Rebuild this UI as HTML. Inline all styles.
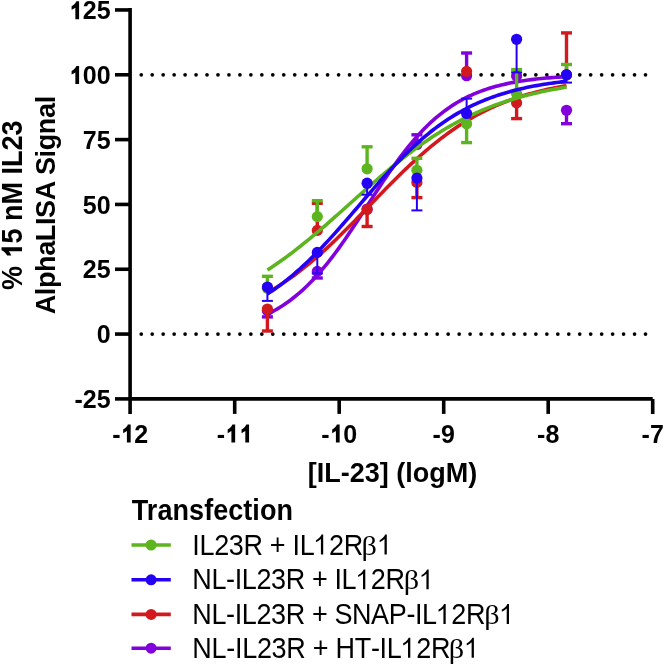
<!DOCTYPE html>
<html><head><meta charset="utf-8"><style>
html,body{margin:0;padding:0;background:#fff;}
svg{display:block;will-change:transform;}
.tk{font-family:"Liberation Sans",sans-serif;font-weight:bold;font-size:25px;fill:#000;font-kerning:none;}
.ti{font-family:"Liberation Sans",sans-serif;font-weight:bold;font-size:27px;fill:#000;}
.lg{font-family:"Liberation Sans",sans-serif;font-size:27px;fill:#000;font-kerning:none;}
.beta{font-family:"Liberation Serif",serif;font-size:28px;fill:#000;}
.h{fill-opacity:0;}
</style></head><body>
<svg width="664" height="665" viewBox="0 0 664 665">
<rect width="664" height="665" fill="#fff"/>
<circle cx="141.25" cy="74.8" r="1.85" fill="#000"/>
<circle cx="152.21" cy="74.8" r="1.85" fill="#000"/>
<circle cx="163.17" cy="74.8" r="1.85" fill="#000"/>
<circle cx="174.14" cy="74.8" r="1.85" fill="#000"/>
<circle cx="185.10" cy="74.8" r="1.85" fill="#000"/>
<circle cx="196.06" cy="74.8" r="1.85" fill="#000"/>
<circle cx="207.02" cy="74.8" r="1.85" fill="#000"/>
<circle cx="217.98" cy="74.8" r="1.85" fill="#000"/>
<circle cx="228.95" cy="74.8" r="1.85" fill="#000"/>
<circle cx="239.91" cy="74.8" r="1.85" fill="#000"/>
<circle cx="250.87" cy="74.8" r="1.85" fill="#000"/>
<circle cx="261.83" cy="74.8" r="1.85" fill="#000"/>
<circle cx="272.79" cy="74.8" r="1.85" fill="#000"/>
<circle cx="283.76" cy="74.8" r="1.85" fill="#000"/>
<circle cx="294.72" cy="74.8" r="1.85" fill="#000"/>
<circle cx="305.68" cy="74.8" r="1.85" fill="#000"/>
<circle cx="316.64" cy="74.8" r="1.85" fill="#000"/>
<circle cx="327.60" cy="74.8" r="1.85" fill="#000"/>
<circle cx="338.57" cy="74.8" r="1.85" fill="#000"/>
<circle cx="349.53" cy="74.8" r="1.85" fill="#000"/>
<circle cx="360.49" cy="74.8" r="1.85" fill="#000"/>
<circle cx="371.45" cy="74.8" r="1.85" fill="#000"/>
<circle cx="382.41" cy="74.8" r="1.85" fill="#000"/>
<circle cx="393.38" cy="74.8" r="1.85" fill="#000"/>
<circle cx="404.34" cy="74.8" r="1.85" fill="#000"/>
<circle cx="415.30" cy="74.8" r="1.85" fill="#000"/>
<circle cx="426.26" cy="74.8" r="1.85" fill="#000"/>
<circle cx="437.22" cy="74.8" r="1.85" fill="#000"/>
<circle cx="448.19" cy="74.8" r="1.85" fill="#000"/>
<circle cx="459.15" cy="74.8" r="1.85" fill="#000"/>
<circle cx="470.11" cy="74.8" r="1.85" fill="#000"/>
<circle cx="481.07" cy="74.8" r="1.85" fill="#000"/>
<circle cx="492.03" cy="74.8" r="1.85" fill="#000"/>
<circle cx="503.00" cy="74.8" r="1.85" fill="#000"/>
<circle cx="513.96" cy="74.8" r="1.85" fill="#000"/>
<circle cx="524.92" cy="74.8" r="1.85" fill="#000"/>
<circle cx="535.88" cy="74.8" r="1.85" fill="#000"/>
<circle cx="546.84" cy="74.8" r="1.85" fill="#000"/>
<circle cx="557.81" cy="74.8" r="1.85" fill="#000"/>
<circle cx="568.77" cy="74.8" r="1.85" fill="#000"/>
<circle cx="579.73" cy="74.8" r="1.85" fill="#000"/>
<circle cx="590.69" cy="74.8" r="1.85" fill="#000"/>
<circle cx="601.65" cy="74.8" r="1.85" fill="#000"/>
<circle cx="612.62" cy="74.8" r="1.85" fill="#000"/>
<circle cx="623.58" cy="74.8" r="1.85" fill="#000"/>
<circle cx="634.54" cy="74.8" r="1.85" fill="#000"/>
<circle cx="645.50" cy="74.8" r="1.85" fill="#000"/>
<circle cx="141.25" cy="334.1" r="1.85" fill="#000"/>
<circle cx="152.21" cy="334.1" r="1.85" fill="#000"/>
<circle cx="163.17" cy="334.1" r="1.85" fill="#000"/>
<circle cx="174.14" cy="334.1" r="1.85" fill="#000"/>
<circle cx="185.10" cy="334.1" r="1.85" fill="#000"/>
<circle cx="196.06" cy="334.1" r="1.85" fill="#000"/>
<circle cx="207.02" cy="334.1" r="1.85" fill="#000"/>
<circle cx="217.98" cy="334.1" r="1.85" fill="#000"/>
<circle cx="228.95" cy="334.1" r="1.85" fill="#000"/>
<circle cx="239.91" cy="334.1" r="1.85" fill="#000"/>
<circle cx="250.87" cy="334.1" r="1.85" fill="#000"/>
<circle cx="261.83" cy="334.1" r="1.85" fill="#000"/>
<circle cx="272.79" cy="334.1" r="1.85" fill="#000"/>
<circle cx="283.76" cy="334.1" r="1.85" fill="#000"/>
<circle cx="294.72" cy="334.1" r="1.85" fill="#000"/>
<circle cx="305.68" cy="334.1" r="1.85" fill="#000"/>
<circle cx="316.64" cy="334.1" r="1.85" fill="#000"/>
<circle cx="327.60" cy="334.1" r="1.85" fill="#000"/>
<circle cx="338.57" cy="334.1" r="1.85" fill="#000"/>
<circle cx="349.53" cy="334.1" r="1.85" fill="#000"/>
<circle cx="360.49" cy="334.1" r="1.85" fill="#000"/>
<circle cx="371.45" cy="334.1" r="1.85" fill="#000"/>
<circle cx="382.41" cy="334.1" r="1.85" fill="#000"/>
<circle cx="393.38" cy="334.1" r="1.85" fill="#000"/>
<circle cx="404.34" cy="334.1" r="1.85" fill="#000"/>
<circle cx="415.30" cy="334.1" r="1.85" fill="#000"/>
<circle cx="426.26" cy="334.1" r="1.85" fill="#000"/>
<circle cx="437.22" cy="334.1" r="1.85" fill="#000"/>
<circle cx="448.19" cy="334.1" r="1.85" fill="#000"/>
<circle cx="459.15" cy="334.1" r="1.85" fill="#000"/>
<circle cx="470.11" cy="334.1" r="1.85" fill="#000"/>
<circle cx="481.07" cy="334.1" r="1.85" fill="#000"/>
<circle cx="492.03" cy="334.1" r="1.85" fill="#000"/>
<circle cx="503.00" cy="334.1" r="1.85" fill="#000"/>
<circle cx="513.96" cy="334.1" r="1.85" fill="#000"/>
<circle cx="524.92" cy="334.1" r="1.85" fill="#000"/>
<circle cx="535.88" cy="334.1" r="1.85" fill="#000"/>
<circle cx="546.84" cy="334.1" r="1.85" fill="#000"/>
<circle cx="557.81" cy="334.1" r="1.85" fill="#000"/>
<circle cx="568.77" cy="334.1" r="1.85" fill="#000"/>
<circle cx="579.73" cy="334.1" r="1.85" fill="#000"/>
<circle cx="590.69" cy="334.1" r="1.85" fill="#000"/>
<circle cx="601.65" cy="334.1" r="1.85" fill="#000"/>
<circle cx="612.62" cy="334.1" r="1.85" fill="#000"/>
<circle cx="623.58" cy="334.1" r="1.85" fill="#000"/>
<circle cx="634.54" cy="334.1" r="1.85" fill="#000"/>
<circle cx="645.50" cy="334.1" r="1.85" fill="#000"/>
<polyline points="267.40,314.28 269.91,313.02 272.43,311.69 274.94,310.29 277.45,308.83 279.97,307.30 282.48,305.69 284.99,304.02 287.51,302.27 290.02,300.43 292.53,298.52 295.05,296.53 297.56,294.46 300.07,292.30 302.59,290.06 305.10,287.72 307.62,285.31 310.13,282.80 312.64,280.20 315.16,277.52 317.67,274.75 320.18,271.89 322.70,268.94 325.21,265.91 327.72,262.80 330.24,259.60 332.75,256.33 335.26,252.98 337.78,249.56 340.29,246.08 342.80,242.52 345.32,238.91 347.83,235.25 350.34,231.53 352.86,227.78 355.37,223.98 357.88,220.15 360.40,216.30 362.91,212.43 365.42,208.55 367.94,204.66 370.45,200.78 372.96,196.90 375.48,193.04 377.99,189.20 380.51,185.39 383.02,181.62 385.53,177.88 388.05,174.19 390.56,170.56 393.07,166.98 395.59,163.46 398.10,160.01 400.61,156.63 403.13,153.32 405.64,150.09 408.15,146.94 410.67,143.87 413.18,140.88 415.69,137.99 418.21,135.17 420.72,132.45 423.23,129.81 425.75,127.27 428.26,124.81 430.77,122.43 433.29,120.15 435.80,117.95 438.31,115.84 440.83,113.81 443.34,111.86 445.85,110.00 448.37,108.21 450.88,106.50 453.39,104.86 455.91,103.30 458.42,101.80 460.94,100.38 463.45,99.02 465.96,97.72 468.48,96.49 470.99,95.31 473.50,94.19 476.02,93.13 478.53,92.12 481.04,91.16 483.56,90.24 486.07,89.38 488.58,88.55 491.10,87.77 493.61,87.03 496.12,86.33 498.64,85.67 501.15,85.04 503.66,84.44 506.18,83.88 508.69,83.34 511.20,82.83 513.72,82.36 516.23,81.90 518.74,81.47 521.26,81.07 523.77,80.69 526.28,80.32 528.80,79.98 531.31,79.66 533.83,79.35 536.34,79.06 538.85,78.79 541.37,78.53 543.88,78.29 546.39,78.06 548.91,77.84 551.42,77.64 553.93,77.44 556.45,77.26 558.96,77.09 561.47,76.92 563.99,76.77 566.50,76.63" fill="none" stroke="#8200dc" stroke-width="3.6" stroke-linejoin="round"/>
<line x1="267.4" y1="310.5" x2="267.4" y2="316.9" stroke="#8200dc" stroke-width="3.4"/>
<line x1="261.9" y1="316.9" x2="272.9" y2="316.9" stroke="#8200dc" stroke-width="3.4"/>
<line x1="317.3" y1="271.4" x2="317.3" y2="278" stroke="#8200dc" stroke-width="3.4"/>
<line x1="311.8" y1="278" x2="322.8" y2="278" stroke="#8200dc" stroke-width="3.4"/>
<line x1="416.9" y1="144.5" x2="416.9" y2="134.8" stroke="#8200dc" stroke-width="3.4"/>
<line x1="411.4" y1="134.8" x2="422.4" y2="134.8" stroke="#8200dc" stroke-width="3.4"/>
<line x1="466.6" y1="75.7" x2="466.6" y2="53" stroke="#8200dc" stroke-width="3.4"/>
<line x1="461.1" y1="53" x2="472.1" y2="53" stroke="#8200dc" stroke-width="3.4"/>
<line x1="566.5" y1="110.3" x2="566.5" y2="123.7" stroke="#8200dc" stroke-width="3.4"/>
<line x1="561.0" y1="123.7" x2="572.0" y2="123.7" stroke="#8200dc" stroke-width="3.4"/>
<circle cx="267.4" cy="310.5" r="5.6" fill="#8200dc"/>
<circle cx="317.3" cy="271.4" r="5.6" fill="#8200dc"/>
<circle cx="367.1" cy="209" r="5.6" fill="#8200dc"/>
<circle cx="416.9" cy="144.5" r="5.6" fill="#8200dc"/>
<circle cx="466.6" cy="75.7" r="5.6" fill="#8200dc"/>
<circle cx="516.6" cy="76" r="5.6" fill="#8200dc"/>
<circle cx="566.5" cy="110.3" r="5.6" fill="#8200dc"/>
<polyline points="267.40,292.77 269.91,291.33 272.43,289.84 274.94,288.32 277.45,286.75 279.97,285.15 282.48,283.51 284.99,281.82 287.51,280.10 290.02,278.34 292.53,276.54 295.05,274.69 297.56,272.81 300.07,270.89 302.59,268.93 305.10,266.93 307.62,264.89 310.13,262.82 312.64,260.71 315.16,258.56 317.67,256.38 320.18,254.16 322.70,251.91 325.21,249.62 327.72,247.31 330.24,244.96 332.75,242.59 335.26,240.19 337.78,237.76 340.29,235.31 342.80,232.84 345.32,230.34 347.83,227.83 350.34,225.30 352.86,222.75 355.37,220.19 357.88,217.61 360.40,215.03 362.91,212.44 365.42,209.84 367.94,207.24 370.45,204.64 372.96,202.04 375.48,199.44 377.99,196.84 380.51,194.26 383.02,191.68 385.53,189.11 388.05,186.55 390.56,184.01 393.07,181.48 395.59,178.97 398.10,176.49 400.61,174.02 403.13,171.58 405.64,169.16 408.15,166.77 410.67,164.41 413.18,162.07 415.69,159.77 418.21,157.50 420.72,155.26 423.23,153.05 425.75,150.88 428.26,148.75 430.77,146.65 433.29,144.59 435.80,142.56 438.31,140.58 440.83,138.63 443.34,136.73 445.85,134.86 448.37,133.03 450.88,131.24 453.39,129.49 455.91,127.79 458.42,126.12 460.94,124.49 463.45,122.90 465.96,121.35 468.48,119.84 470.99,118.37 473.50,116.94 476.02,115.54 478.53,114.18 481.04,112.86 483.56,111.58 486.07,110.33 488.58,109.12 491.10,107.95 493.61,106.80 496.12,105.70 498.64,104.62 501.15,103.58 503.66,102.57 506.18,101.59 508.69,100.64 511.20,99.72 513.72,98.83 516.23,97.97 518.74,97.14 521.26,96.33 523.77,95.55 526.28,94.79 528.80,94.06 531.31,93.36 533.83,92.68 536.34,92.02 538.85,91.38 541.37,90.77 543.88,90.18 546.39,89.60 548.91,89.05 551.42,88.52 553.93,88.00 556.45,87.51 558.96,87.03 561.47,86.56 563.99,86.12 566.50,85.69" fill="none" stroke="#d2191e" stroke-width="3.6" stroke-linejoin="round"/>
<line x1="267.4" y1="309" x2="267.4" y2="331" stroke="#d2191e" stroke-width="3.4"/>
<line x1="261.9" y1="331" x2="272.9" y2="331" stroke="#d2191e" stroke-width="3.4"/>
<line x1="317.3" y1="230.4" x2="317.3" y2="203.3" stroke="#d2191e" stroke-width="3.4"/>
<line x1="311.8" y1="203.3" x2="322.8" y2="203.3" stroke="#d2191e" stroke-width="3.4"/>
<line x1="367.1" y1="209.6" x2="367.1" y2="226.5" stroke="#d2191e" stroke-width="3.4"/>
<line x1="361.6" y1="226.5" x2="372.6" y2="226.5" stroke="#d2191e" stroke-width="3.4"/>
<line x1="416.9" y1="182.4" x2="416.9" y2="197.6" stroke="#d2191e" stroke-width="3.4"/>
<line x1="411.4" y1="197.6" x2="422.4" y2="197.6" stroke="#d2191e" stroke-width="3.4"/>
<line x1="516.6" y1="102.9" x2="516.6" y2="118.6" stroke="#d2191e" stroke-width="3.4"/>
<line x1="511.1" y1="118.6" x2="522.1" y2="118.6" stroke="#d2191e" stroke-width="3.4"/>
<line x1="566.5" y1="75" x2="566.5" y2="32.9" stroke="#d2191e" stroke-width="3.4"/>
<line x1="561.0" y1="32.9" x2="572.0" y2="32.9" stroke="#d2191e" stroke-width="3.4"/>
<circle cx="267.4" cy="309" r="5.6" fill="#d2191e"/>
<circle cx="317.3" cy="230.4" r="5.6" fill="#d2191e"/>
<circle cx="367.1" cy="209.6" r="5.6" fill="#d2191e"/>
<circle cx="416.9" cy="182.4" r="5.6" fill="#d2191e"/>
<circle cx="466.6" cy="71.4" r="5.6" fill="#d2191e"/>
<circle cx="516.6" cy="102.9" r="5.6" fill="#d2191e"/>
<circle cx="566.5" cy="75" r="5.6" fill="#d2191e"/>
<polyline points="267.40,270.11 269.91,268.46 272.43,266.78 274.94,265.08 277.45,263.34 279.97,261.58 282.48,259.78 284.99,257.96 287.51,256.11 290.02,254.23 292.53,252.33 295.05,250.40 297.56,248.45 300.07,246.47 302.59,244.46 305.10,242.44 307.62,240.39 310.13,238.32 312.64,236.23 315.16,234.13 317.67,232.00 320.18,229.86 322.70,227.70 325.21,225.52 327.72,223.34 330.24,221.14 332.75,218.93 335.26,216.71 337.78,214.48 340.29,212.25 342.80,210.01 345.32,207.76 347.83,205.51 350.34,203.27 352.86,201.02 355.37,198.77 357.88,196.52 360.40,194.28 362.91,192.05 365.42,189.82 367.94,187.60 370.45,185.39 372.96,183.19 375.48,181.00 377.99,178.82 380.51,176.66 383.02,174.52 385.53,172.39 388.05,170.28 390.56,168.19 393.07,166.12 395.59,164.07 398.10,162.04 400.61,160.04 403.13,158.06 405.64,156.10 408.15,154.17 410.67,152.26 413.18,150.38 415.69,148.53 418.21,146.71 420.72,144.91 423.23,143.14 425.75,141.40 428.26,139.69 430.77,138.01 433.29,136.36 435.80,134.74 438.31,133.15 440.83,131.59 443.34,130.07 445.85,128.57 448.37,127.10 450.88,125.66 453.39,124.25 455.91,122.88 458.42,121.53 460.94,120.21 463.45,118.92 465.96,117.67 468.48,116.44 470.99,115.24 473.50,114.07 476.02,112.93 478.53,111.81 481.04,110.72 483.56,109.66 486.07,108.63 488.58,107.63 491.10,106.65 493.61,105.69 496.12,104.76 498.64,103.86 501.15,102.98 503.66,102.12 506.18,101.29 508.69,100.48 511.20,99.69 513.72,98.93 516.23,98.18 518.74,97.46 521.26,96.76 523.77,96.08 526.28,95.42 528.80,94.78 531.31,94.15 533.83,93.55 536.34,92.96 538.85,92.39 541.37,91.84 543.88,91.31 546.39,90.79 548.91,90.28 551.42,89.80 553.93,89.32 556.45,88.86 558.96,88.42 561.47,87.99 563.99,87.57 566.50,87.17" fill="none" stroke="#5cb41e" stroke-width="3.6" stroke-linejoin="round"/>
<line x1="267.4" y1="288.2" x2="267.4" y2="276.3" stroke="#5cb41e" stroke-width="3.4"/>
<line x1="261.9" y1="276.3" x2="272.9" y2="276.3" stroke="#5cb41e" stroke-width="3.4"/>
<line x1="317.3" y1="216.6" x2="317.3" y2="200.7" stroke="#5cb41e" stroke-width="3.4"/>
<line x1="311.8" y1="200.7" x2="322.8" y2="200.7" stroke="#5cb41e" stroke-width="3.4"/>
<line x1="367.1" y1="168.8" x2="367.1" y2="146.8" stroke="#5cb41e" stroke-width="3.4"/>
<line x1="361.6" y1="146.8" x2="372.6" y2="146.8" stroke="#5cb41e" stroke-width="3.4"/>
<line x1="416.9" y1="170.3" x2="416.9" y2="158.3" stroke="#5cb41e" stroke-width="3.4"/>
<line x1="411.4" y1="158.3" x2="422.4" y2="158.3" stroke="#5cb41e" stroke-width="3.4"/>
<line x1="466.6" y1="123.7" x2="466.6" y2="142.6" stroke="#5cb41e" stroke-width="3.4"/>
<line x1="461.1" y1="142.6" x2="472.1" y2="142.6" stroke="#5cb41e" stroke-width="3.4"/>
<line x1="516.6" y1="93.6" x2="516.6" y2="69.6" stroke="#5cb41e" stroke-width="3.4"/>
<line x1="511.1" y1="69.6" x2="522.1" y2="69.6" stroke="#5cb41e" stroke-width="3.4"/>
<line x1="566.5" y1="75" x2="566.5" y2="64.5" stroke="#5cb41e" stroke-width="3.4"/>
<line x1="561.0" y1="64.5" x2="572.0" y2="64.5" stroke="#5cb41e" stroke-width="3.4"/>
<circle cx="267.4" cy="288.2" r="5.6" fill="#5cb41e"/>
<circle cx="317.3" cy="216.6" r="5.6" fill="#5cb41e"/>
<circle cx="367.1" cy="168.8" r="5.6" fill="#5cb41e"/>
<circle cx="416.9" cy="170.3" r="5.6" fill="#5cb41e"/>
<circle cx="466.6" cy="123.7" r="5.6" fill="#5cb41e"/>
<circle cx="516.6" cy="93.6" r="5.6" fill="#5cb41e"/>
<circle cx="566.5" cy="75" r="5.6" fill="#5cb41e"/>
<polyline points="267.40,293.97 269.91,292.33 272.43,290.64 274.94,288.90 277.45,287.11 279.97,285.27 282.48,283.38 284.99,281.44 287.51,279.45 290.02,277.41 292.53,275.32 295.05,273.17 297.56,270.98 300.07,268.74 302.59,266.45 305.10,264.12 307.62,261.73 310.13,259.31 312.64,256.83 315.16,254.32 317.67,251.76 320.18,249.16 322.70,246.52 325.21,243.85 327.72,241.14 330.24,238.40 332.75,235.63 335.26,232.84 337.78,230.01 340.29,227.16 342.80,224.30 345.32,221.41 347.83,218.51 350.34,215.60 352.86,212.68 355.37,209.75 357.88,206.82 360.40,203.88 362.91,200.95 365.42,198.03 367.94,195.11 370.45,192.20 372.96,189.31 375.48,186.43 377.99,183.58 380.51,180.74 383.02,177.93 385.53,175.15 388.05,172.40 390.56,169.67 393.07,166.98 395.59,164.33 398.10,161.71 400.61,159.14 403.13,156.60 405.64,154.11 408.15,151.66 410.67,149.26 413.18,146.90 415.69,144.59 418.21,142.33 420.72,140.11 423.23,137.95 425.75,135.83 428.26,133.77 430.77,131.75 433.29,129.79 435.80,127.88 438.31,126.01 440.83,124.20 443.34,122.44 445.85,120.72 448.37,119.06 450.88,117.44 453.39,115.88 455.91,114.36 458.42,112.88 460.94,111.46 463.45,110.08 465.96,108.74 468.48,107.45 470.99,106.20 473.50,104.99 476.02,103.82 478.53,102.69 481.04,101.60 483.56,100.55 486.07,99.54 488.58,98.56 491.10,97.62 493.61,96.71 496.12,95.84 498.64,95.00 501.15,94.19 503.66,93.41 506.18,92.66 508.69,91.93 511.20,91.24 513.72,90.57 516.23,89.93 518.74,89.31 521.26,88.72 523.77,88.15 526.28,87.60 528.80,87.08 531.31,86.57 533.83,86.09 536.34,85.62 538.85,85.18 541.37,84.75 543.88,84.34 546.39,83.94 548.91,83.56 551.42,83.20 553.93,82.85 556.45,82.52 558.96,82.20 561.47,81.89 563.99,81.60 566.50,81.32" fill="none" stroke="#2400f5" stroke-width="3.6" stroke-linejoin="round"/>
<line x1="267.4" y1="287" x2="267.4" y2="300.9" stroke="#2400f5" stroke-width="2.0"/>
<line x1="261.9" y1="300.9" x2="272.9" y2="300.9" stroke="#2400f5" stroke-width="2.0"/>
<line x1="317.3" y1="252.4" x2="317.3" y2="273.4" stroke="#2400f5" stroke-width="2.0"/>
<line x1="311.8" y1="273.4" x2="322.8" y2="273.4" stroke="#2400f5" stroke-width="2.0"/>
<line x1="367.1" y1="183.2" x2="367.1" y2="194.7" stroke="#2400f5" stroke-width="2.0"/>
<line x1="361.6" y1="194.7" x2="372.6" y2="194.7" stroke="#2400f5" stroke-width="2.0"/>
<line x1="416.9" y1="178.1" x2="416.9" y2="210.4" stroke="#2400f5" stroke-width="2.0"/>
<line x1="411.4" y1="210.4" x2="422.4" y2="210.4" stroke="#2400f5" stroke-width="2.0"/>
<line x1="466.6" y1="113.5" x2="466.6" y2="98.6" stroke="#2400f5" stroke-width="2.0"/>
<line x1="461.1" y1="98.6" x2="472.1" y2="98.6" stroke="#2400f5" stroke-width="2.0"/>
<line x1="516.6" y1="39.3" x2="516.6" y2="72.4" stroke="#2400f5" stroke-width="2.0"/>
<line x1="511.1" y1="72.4" x2="522.1" y2="72.4" stroke="#2400f5" stroke-width="2.0"/>
<line x1="566.5" y1="74.7" x2="566.5" y2="82.6" stroke="#2400f5" stroke-width="2.0"/>
<line x1="561.0" y1="82.6" x2="572.0" y2="82.6" stroke="#2400f5" stroke-width="2.0"/>
<circle cx="267.4" cy="287" r="5.6" fill="#2400f5"/>
<circle cx="317.3" cy="252.4" r="5.6" fill="#2400f5"/>
<circle cx="367.1" cy="183.2" r="5.6" fill="#2400f5"/>
<circle cx="416.9" cy="178.1" r="5.6" fill="#2400f5"/>
<circle cx="466.6" cy="113.5" r="5.6" fill="#2400f5"/>
<circle cx="516.6" cy="39.3" r="5.6" fill="#2400f5"/>
<circle cx="566.5" cy="74.7" r="5.6" fill="#2400f5"/>
<path d="M130.1,8.1 V413.9 M128.3,398.9 H652.7 M652.7,398.9 V413.9" fill="none" stroke="#000" stroke-width="3.6"/>
<line x1="115" y1="9.95" x2="130.1" y2="9.95" stroke="#000" stroke-width="3.6"/>
<text x="110.6" y="19.15" text-anchor="end" class="tk"><tspan class="h">1</tspan>25</text>
<path transform="translate(79.10,19.15) scale(25)" d="M0,0V-0.716H-0.11C-0.14,-0.64 -0.21,-0.565 -0.30,-0.52V-0.375C-0.24,-0.4 -0.19,-0.43 -0.15,-0.46V0Z"/>
<line x1="115" y1="74.78" x2="130.1" y2="74.78" stroke="#000" stroke-width="3.6"/>
<text x="110.6" y="83.98" text-anchor="end" class="tk"><tspan class="h">1</tspan>00</text>
<path transform="translate(79.10,83.98) scale(25)" d="M0,0V-0.716H-0.11C-0.14,-0.64 -0.21,-0.565 -0.30,-0.52V-0.375C-0.24,-0.4 -0.19,-0.43 -0.15,-0.46V0Z"/>
<line x1="115" y1="139.60" x2="130.1" y2="139.60" stroke="#000" stroke-width="3.6"/>
<text x="110.6" y="148.80" text-anchor="end" class="tk">75</text>
<line x1="115" y1="204.43" x2="130.1" y2="204.43" stroke="#000" stroke-width="3.6"/>
<text x="110.6" y="213.62" text-anchor="end" class="tk">50</text>
<line x1="115" y1="269.25" x2="130.1" y2="269.25" stroke="#000" stroke-width="3.6"/>
<text x="110.6" y="278.45" text-anchor="end" class="tk">25</text>
<line x1="115" y1="334.07" x2="130.1" y2="334.07" stroke="#000" stroke-width="3.6"/>
<text x="110.6" y="343.27" text-anchor="end" class="tk">0</text>
<line x1="115" y1="398.90" x2="130.1" y2="398.90" stroke="#000" stroke-width="3.6"/>
<text x="110.6" y="408.10" text-anchor="end" class="tk">-25</text>
<text x="130.20" y="442.5" text-anchor="middle" class="tk">-<tspan class="h">1</tspan>2</text>
<path transform="translate(130.66,442.5) scale(25)" d="M0,0V-0.716H-0.11C-0.14,-0.64 -0.21,-0.565 -0.30,-0.52V-0.375C-0.24,-0.4 -0.19,-0.43 -0.15,-0.46V0Z"/>
<line x1="234.70" y1="398.9" x2="234.70" y2="413.9" stroke="#000" stroke-width="3.6"/>
<text x="234.70" y="442.5" text-anchor="middle" class="tk">-<tspan class="h">1</tspan><tspan class="h">1</tspan></text>
<path transform="translate(235.16,442.5) scale(25)" d="M0,0V-0.716H-0.11C-0.14,-0.64 -0.21,-0.565 -0.30,-0.52V-0.375C-0.24,-0.4 -0.19,-0.43 -0.15,-0.46V0Z"/>
<path transform="translate(249.06,442.5) scale(25)" d="M0,0V-0.716H-0.11C-0.14,-0.64 -0.21,-0.565 -0.30,-0.52V-0.375C-0.24,-0.4 -0.19,-0.43 -0.15,-0.46V0Z"/>
<line x1="339.20" y1="398.9" x2="339.20" y2="413.9" stroke="#000" stroke-width="3.6"/>
<text x="339.20" y="442.5" text-anchor="middle" class="tk">-<tspan class="h">1</tspan>0</text>
<path transform="translate(339.66,442.5) scale(25)" d="M0,0V-0.716H-0.11C-0.14,-0.64 -0.21,-0.565 -0.30,-0.52V-0.375C-0.24,-0.4 -0.19,-0.43 -0.15,-0.46V0Z"/>
<line x1="443.70" y1="398.9" x2="443.70" y2="413.9" stroke="#000" stroke-width="3.6"/>
<text x="443.70" y="442.5" text-anchor="middle" class="tk">-9</text>
<line x1="548.20" y1="398.9" x2="548.20" y2="413.9" stroke="#000" stroke-width="3.6"/>
<text x="548.20" y="442.5" text-anchor="middle" class="tk">-8</text>
<text x="652.70" y="442.5" text-anchor="middle" class="tk">-7</text>
<text x="392.4" y="482.3" text-anchor="middle" class="ti">[IL-23] (logM)</text>
<text id="yt1" transform="translate(22,205.2) rotate(-90) scale(1,1.06)" text-anchor="middle" class="ti" textLength="169.6" lengthAdjust="spacing">% <tspan class="h">1</tspan>5 nM IL23</text>
<text transform="translate(54.5,205.1) rotate(-90) scale(1,1.0)" text-anchor="middle" class="ti" textLength="218.5" lengthAdjust="spacing">AlphaLISA Signal</text>
<path transform="translate(22,205.2) rotate(-90) scale(1,1.06) translate(-42.1,0) scale(27)" d="M0,0V-0.716H-0.11C-0.14,-0.64 -0.21,-0.565 -0.30,-0.52V-0.375C-0.24,-0.4 -0.19,-0.43 -0.15,-0.46V0Z"/>
<text transform="translate(131.8,520.2) scale(1,1.08)" class="ti" textLength="161.2" lengthAdjust="spacing">Transfection</text>
<line x1="131.5" y1="545.00" x2="170.8" y2="545.00" stroke="#5cb41e" stroke-width="3.6"/>
<circle cx="151.1" cy="545.00" r="5.5" fill="#5cb41e"/>
<text transform="translate(192.3,554.50) scale(1,1.06)" class="lg" textLength="170.9" lengthAdjust="spacing">IL23R + IL<tspan class="h">1</tspan>2R</text>
<path transform="translate(323.2,554.50) scale(26,27.820)" d="M0,0V-0.716H-0.062C-0.09,-0.65 -0.175,-0.565 -0.275,-0.515V-0.438C-0.205,-0.468 -0.13,-0.515 -0.088,-0.555V0Z"/>
<path transform="translate(386.8,554.50) scale(26,27.820)" d="M0,0V-0.716H-0.062C-0.09,-0.65 -0.175,-0.565 -0.275,-0.515V-0.438C-0.205,-0.468 -0.13,-0.515 -0.088,-0.555V0Z"/>
<text transform="translate(361.62,554.50) scale(1.08,1.0)" class="beta">&#946;</text>
<line x1="131.5" y1="579.80" x2="170.8" y2="579.80" stroke="#2400f5" stroke-width="3.6"/>
<circle cx="151.1" cy="579.80" r="5.5" fill="#2400f5"/>
<text transform="translate(192.3,589.30) scale(1,1.06)" class="lg" textLength="212.6" lengthAdjust="spacing">NL-IL23R + IL<tspan class="h">1</tspan>2R</text>
<path transform="translate(365.3,589.30) scale(26,27.820)" d="M0,0V-0.716H-0.062C-0.09,-0.65 -0.175,-0.565 -0.275,-0.515V-0.438C-0.205,-0.468 -0.13,-0.515 -0.088,-0.555V0Z"/>
<path transform="translate(428.7,589.30) scale(26,27.820)" d="M0,0V-0.716H-0.062C-0.09,-0.65 -0.175,-0.565 -0.275,-0.515V-0.438C-0.205,-0.468 -0.13,-0.515 -0.088,-0.555V0Z"/>
<text transform="translate(403.72,589.30) scale(1.08,1.0)" class="beta">&#946;</text>
<line x1="131.5" y1="614.40" x2="170.8" y2="614.40" stroke="#d2191e" stroke-width="3.6"/>
<circle cx="151.1" cy="614.40" r="5.5" fill="#d2191e"/>
<text transform="translate(192.3,623.90) scale(1,1.06)" class="lg" textLength="293.2" lengthAdjust="spacing">NL-IL23R + SNAP-IL<tspan class="h">1</tspan>2R</text>
<path transform="translate(445.7,623.90) scale(26,27.820)" d="M0,0V-0.716H-0.062C-0.09,-0.65 -0.175,-0.565 -0.275,-0.515V-0.438C-0.205,-0.468 -0.13,-0.515 -0.088,-0.555V0Z"/>
<path transform="translate(509.0,623.90) scale(26,27.820)" d="M0,0V-0.716H-0.062C-0.09,-0.65 -0.175,-0.565 -0.275,-0.515V-0.438C-0.205,-0.468 -0.13,-0.515 -0.088,-0.555V0Z"/>
<text transform="translate(484.22,623.90) scale(1.08,1.0)" class="beta">&#946;</text>
<line x1="131.5" y1="648.20" x2="170.8" y2="648.20" stroke="#8200dc" stroke-width="3.6"/>
<circle cx="151.1" cy="648.20" r="5.5" fill="#8200dc"/>
<text transform="translate(192.3,657.70) scale(1,1.06)" class="lg" textLength="258.2" lengthAdjust="spacing">NL-IL23R + HT-IL<tspan class="h">1</tspan>2R</text>
<path transform="translate(410.3,657.70) scale(26,27.820)" d="M0,0V-0.716H-0.062C-0.09,-0.65 -0.175,-0.565 -0.275,-0.515V-0.438C-0.205,-0.468 -0.13,-0.515 -0.088,-0.555V0Z"/>
<path transform="translate(473.9,657.70) scale(26,27.820)" d="M0,0V-0.716H-0.062C-0.09,-0.65 -0.175,-0.565 -0.275,-0.515V-0.438C-0.205,-0.468 -0.13,-0.515 -0.088,-0.555V0Z"/>
<text transform="translate(448.82,657.70) scale(1.08,1.0)" class="beta">&#946;</text>
</svg>
</body></html>
